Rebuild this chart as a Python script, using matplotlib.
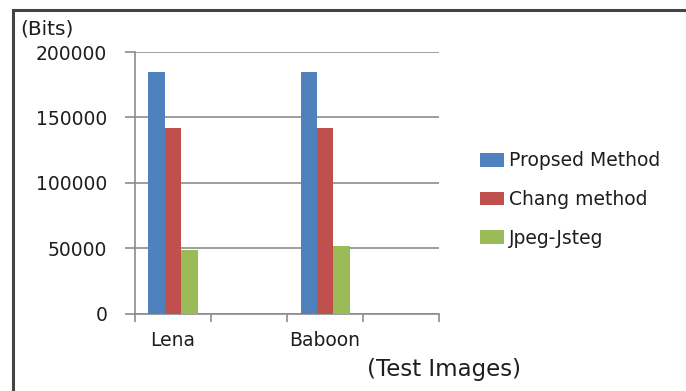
import numpy as np
import matplotlib
matplotlib.use("Agg")
import matplotlib.pyplot as plt
from matplotlib.lines import Line2D
from matplotlib.patches import Patch

# Data: bits embedded per test image for each method
categories = ["Lena", "", "Baboon", ""]
series_names = ["Propsed Method", "Chang method", "Jpeg-Jsteg"]
proposed = [185000, np.nan, 185000, np.nan]
chang = [142000, np.nan, 142000, np.nan]
jsteg = [49000, np.nan, 52000, np.nan]
y_ticks = [0, 50000, 100000, 150000, 200000]

colors = ["#4F81BD", "#C0504D", "#9BBB59"]
grid_gray = "#8C8C8C"
text_color = "#1E1E1E"

plt.rcParams["font.family"] = ["DejaVu Sans"]

fig = plt.figure(figsize=(6.86, 3.91), dpi=100)
ax = fig.add_axes([0.1968, 0.197, 0.4432, 0.67])

x = np.arange(len(categories))
width = 0.215
for i, (vals, name, c) in enumerate(zip([proposed, chang, jsteg], series_names, colors)):
    ax.bar(x + (i - 1) * width, vals, width=width, color=c, label=name, zorder=3)

ax.set_xlim(-0.5, len(categories) - 0.5)
ax.set_ylim(0, 200000)
ax.set_yticks(y_ticks)
ax.set_yticklabels([str(v) for v in y_ticks], fontsize=13.5, color=text_color)
ax.yaxis.grid(True, color=grid_gray, linewidth=1.2, zorder=0)

# Category boundaries carry the tick marks, names sit in between
ax.set_xticks(np.arange(-0.5, len(categories)))
ax.set_xticklabels([])
ax.set_xticks(x, minor=True)
ax.set_xticklabels(categories, minor=True, fontsize=13.5, color=text_color)
ax.tick_params(axis="x", which="minor", length=0, pad=12)
ax.tick_params(axis="x", which="major", length=6, width=1.2, color=grid_gray, direction="out")
ax.tick_params(axis="y", length=7, width=1.2, color=grid_gray, direction="out", pad=13)

for side in ["top", "right"]:
    ax.spines[side].set_visible(False)
for side in ["left", "bottom"]:
    ax.spines[side].set_color(grid_gray)
    ax.spines[side].set_linewidth(1.2)

fig.text(0.029, 0.925, "(Bits)", fontsize=14.5, color=text_color, va="center", ha="left")
fig.text(0.535, 0.054, "(Test Images)", fontsize=16.5, color=text_color, va="center", ha="left")

handles = [Patch(facecolor=c, edgecolor="none") for c in colors]
fig.legend(handles, series_names, loc="center left", bbox_to_anchor=(0.675, 0.49),
           frameon=False, fontsize=13.5, handlelength=1.3, handleheight=0.75,
           handletextpad=0.25, labelspacing=1.05, labelcolor=text_color)

# Outer chart frame (left and top edges)
fig.add_artist(Line2D([0.019, 0.019], [0.0, 0.974], transform=fig.transFigure,
                      color="#444444", linewidth=2.2))
fig.add_artist(Line2D([0.019, 1.0], [0.974, 0.974], transform=fig.transFigure,
                      color="#444444", linewidth=2.2))

fig.savefig("out.png", dpi=100)
